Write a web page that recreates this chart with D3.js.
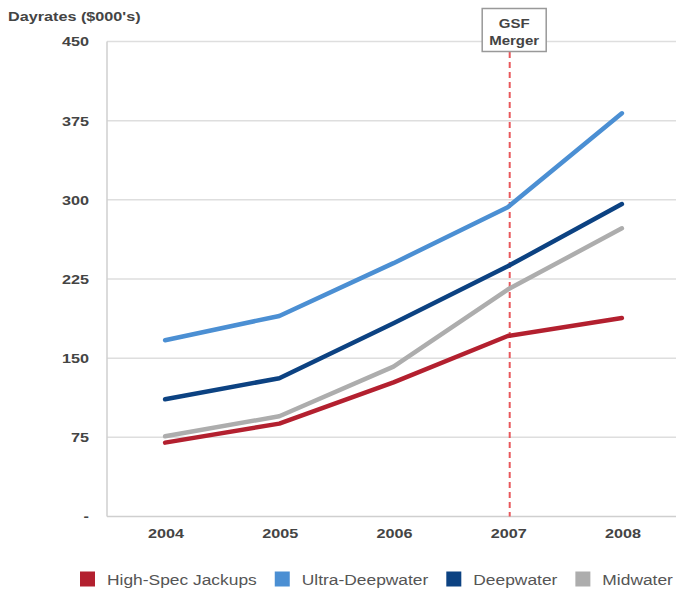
<!DOCTYPE html>
<html>
<head>
<meta charset="utf-8">
<script src="https://cdn.jsdelivr.net/npm/d3@7"></script>
<style>
  html, body { margin: 0; padding: 0; background: #fff; }
  svg { display: block; font-family: "Liberation Sans", Arial, sans-serif; }
</style>
</head>
<body>
<svg id="chart" width="676" height="596"></svg>
<script>
// Dayrates by rig class, $000's per day
const years = ["2004", "2005", "2006", "2007", "2008"];
const highSpecJackups = [70, 88, 127, 171, 188];
const ultraDeepwater = [167, 190, 240, 293, 382];
const deepwater = [111, 131, 183, 237, 296];
const midwater = [76, 95, 142, 215, 273];
const yTicks = [0, 75, 150, 225, 300, 375, 450];
const seriesNames = ["High-Spec Jackups", "Ultra-Deepwater", "Deepwater", "Midwater"];
const seriesColors = ["#b3202f", "#4b8fd3", "#0c4282", "#adadad"];
const mergerYear = "2007";
const mergerLabel = ["GSF", "Merger"];
const yTitle = "Dayrates ($000's)";

const seriesValues = [highSpecJackups, ultraDeepwater, deepwater, midwater];
const series = seriesNames.map((name, i) => ({
  name, color: seriesColors[i],
  points: years.map((y, j) => ({ year: y, value: seriesValues[i][j] }))
}));

const svg = d3.select("#chart");
const SX = 1.2; // text is drawn slightly wide
const plot = { left: 107, right: 679, top: 41.5, bottom: 516.5 };

const x = d3.scalePoint().domain(years).range([plot.left + 1, plot.right]).padding(0.5);
const y = d3.scaleLinear().domain([0, 450]).range([plot.bottom, plot.top]);

function wideText(sel, tx, ty) {
  return sel.attr("transform", `translate(${tx},${ty}) scale(${SX},1)`);
}

// grid lines
svg.append("g")
  .selectAll("line")
  .data(yTicks.filter(d => d > 0))
  .join("line")
  .attr("x1", plot.left).attr("x2", plot.right)
  .attr("y1", d => y(d)).attr("y2", d => y(d))
  .attr("stroke", "#dedede").attr("stroke-width", 1.5);

// axis frame: left and bottom
svg.append("line")
  .attr("x1", plot.left).attr("x2", plot.left)
  .attr("y1", plot.top).attr("y2", plot.bottom)
  .attr("stroke", "#cfcfcf").attr("stroke-width", 1.5);
svg.append("line")
  .attr("x1", plot.left).attr("x2", plot.right)
  .attr("y1", plot.bottom).attr("y2", plot.bottom)
  .attr("stroke", "#cfcfcf").attr("stroke-width", 1.5);

// y tick labels (zero shown as a dash)
svg.append("g")
  .selectAll("text")
  .data(yTicks)
  .join("text")
  .each(function (d) { wideText(d3.select(this), 89, y(d)); })
  .attr("text-anchor", "end")
  .attr("dy", "0.36em")
  .attr("font-size", 13.5)
  .attr("font-weight", "bold")
  .attr("fill", "#444")
  .text(d => d === 0 ? "-" : d);

// x tick labels
svg.append("g")
  .selectAll("text")
  .data(years)
  .join("text")
  .each(function (d) { wideText(d3.select(this), x(d) + 1, 538); })
  .attr("text-anchor", "middle")
  .attr("font-size", 13.5)
  .attr("font-weight", "bold")
  .attr("fill", "#444")
  .text(d => d);

// axis title
wideText(svg.append("text"), 8, 21)
  .attr("font-size", 13.5)
  .attr("font-weight", "bold")
  .attr("fill", "#444")
  .text(yTitle);

// merger marker
const mx = x(mergerYear) + 2;
svg.append("line")
  .attr("x1", mx).attr("x2", mx)
  .attr("y1", 52).attr("y2", plot.bottom)
  .attr("stroke", "#e8585c").attr("stroke-width", 2)
  .attr("stroke-dasharray", "6,4");
svg.append("rect")
  .attr("x", mx - 27.5).attr("y", 8.5)
  .attr("width", 64).attr("height", 43)
  .attr("fill", "#fff").attr("stroke", "#999").attr("stroke-width", 1.5);
mergerLabel.forEach((t, i) => {
  wideText(svg.append("text"), mx + 4.5, 28 + i * 17)
    .attr("text-anchor", "middle")
    .attr("font-size", 12.5)
    .attr("font-weight", "bold")
    .attr("fill", "#444")
    .text(t);
});

// series lines
const line = d3.line().x(d => x(d.year)).y(d => y(d.value));
svg.append("g")
  .selectAll("path")
  .data(series)
  .join("path")
  .attr("d", d => line(d.points))
  .attr("fill", "none")
  .attr("stroke", d => d.color)
  .attr("stroke-width", 4.5)
  .attr("stroke-linejoin", "round")
  .attr("stroke-linecap", "round");

// legend
const legend = svg.append("g");
let lx = 80;
series.forEach(s => {
  legend.append("rect")
    .attr("x", lx).attr("y", 571.5)
    .attr("width", 15).attr("height", 15)
    .attr("fill", s.color);
  const t = wideText(legend.append("text"), lx + 27, 585)
    .attr("font-size", 14.5)
    .attr("fill", "#555")
    .text(s.name);
  const w = t.node().getComputedTextLength() * SX;
  lx = lx + 27 + w + 18;
});
</script>
</body>
</html>
